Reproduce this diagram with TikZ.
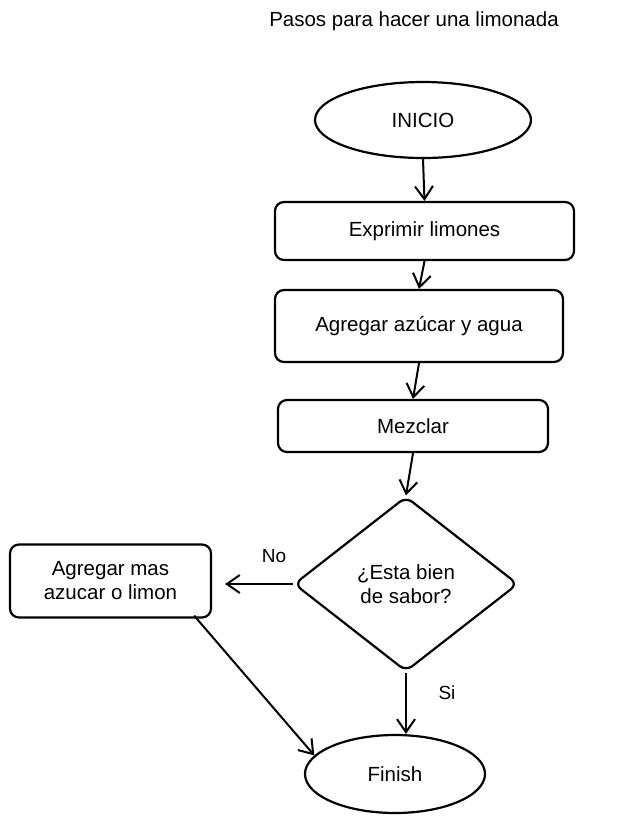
\documentclass[tikz,border=0pt]{standalone}
\usepackage{fontspec}
\setmainfont{Liberation Sans}
\usetikzlibrary{shapes.geometric,arrows.meta,calc}
\begin{document}
\begin{tikzpicture}[x=1pt,y=-1pt,
  every node/.style={font=\fontsize{20.5}{24}\selectfont},
  box/.style={draw, line width=2.2pt, rounded corners=9pt, align=center, inner sep=0pt},
  oval/.style={draw, ellipse, line width=2.2pt, inner sep=0pt},
  decision/.style={draw, diamond, line width=2.2pt, rounded corners=8pt, align=center, inner sep=0pt},
  flow/.style={draw, line width=2pt, -{Straight Barb[length=13pt,width=18pt,line width=2pt]}},
  lbl/.style={font=\fontsize{19}{22}\selectfont}]
\useasboundingbox (0,0) rectangle (632,823);
\node (title) at (414,21) {Pasos para hacer una limonada};
\node[oval, minimum width=216pt, minimum height=76pt] (inicio) at (423,120) {INICIO};
\node[box, minimum width=299pt, minimum height=58pt] (expr) at (424.5,231) {Exprimir limones};
\node[box, minimum width=288pt, minimum height=72pt] (agua) at (419,326) {Agregar azúcar y agua};
\node[box, minimum width=270pt, minimum height=52pt] (mez) at (413,426) {Mezclar};
\node[decision, minimum width=224pt, minimum height=175pt] (dia) at (406,584) {¿Esta bien\\de sabor?};
\node[box, minimum width=201pt, minimum height=73pt] (mas) at (110.5,581) {Agregar mas\\azucar o limon};
\node[oval, minimum width=180pt, minimum height=78pt] (fin) at (395,774) {Finish};
\node[lbl] (no) at (274,556) {No};
\node[lbl] (si) at (447,693) {Si};
\draw[flow] (inicio.south) -- (expr.north);
\draw[flow] (expr.south) -- (agua.north);
\draw[flow] (agua.south) -- (mez.north);
\draw[flow] (mez.south) -- (dia.north);
\draw[flow, shorten >=13pt] (dia.west) -- (mas.east |- dia.west);
\draw[flow] (dia.south) -- (dia.south |- fin.north);
\draw[flow] ($(mas.south east)+(-18pt,3pt)$) -- (fin.167);
\end{tikzpicture}
\end{document}
